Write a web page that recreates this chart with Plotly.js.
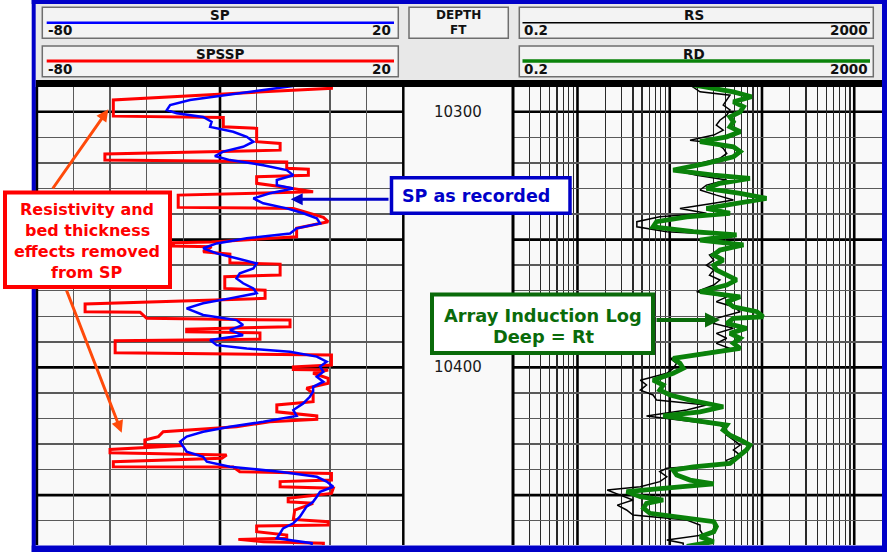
<!DOCTYPE html>
<html><head><meta charset="utf-8">
<script src="https://cdn.plot.ly/plotly-3.0.1.min.js"></script>
<style>html,body{margin:0;padding:0;background:#fff}#chart{width:887px;height:552px}</style>
</head><body><div id="chart"></div>
<script>
// ---- DATA ----
const spssp_depth = [10289.5,10290.8,10292.2,10295.4,10301.7,10302.2,10305.9,10306.5,10311.7,10312.4,10315.0,10316.5,10318.9,10319.6,10322.1,10322.5,10324.8,10325.4,10328.0,10329.1,10331.3,10332.6,10337.4,10337.8,10341.3,10343.0,10345.6,10348.9,10350.9,10351.2,10352.5,10352.8,10354.8,10355.7,10359.1,10359.6,10363.9,10364.5,10369.1,10369.8,10373.0,10375.2,10378.2,10378.4,10380.8,10381.5,10384.1,10385.1,10386.1,10386.5,10389.0,10389.6,10394.3,10395.2,10399.1,10399.8,10400.8,10401.0,10402.3,10404.3,10406.2,10408.2,10410.2,10413.4,10414.7,10417.4,10419.0,10420.3,10421.3,10423.2,10425.2,10427.1,10428.4,10430.4,10430.6,10432.1,10433.4,10434.3,10435.6,10436.9,10438.9,10439.0,10440.8,10441.5,10444.1,10444.7,10446.7,10447.3,10449.3,10451.2,10452.6,10453.2,10455.8,10459.5,10460.4,10461.7,10462.1,10464.3,10465.6,10466.9,10467.3,10468.2,10468.8,10470.0];
const spssp_mv = [0.4,0.4,-18.2,-59.1,-59.1,-29.1,-29.1,-20.0,-20.0,-13.6,-13.6,-61.4,-61.4,-11.8,-11.8,-5.9,-5.9,-20.0,-20.0,-14.2,-4.6,-41.4,-41.4,-10.0,-1.8,-0.5,-9.1,-9.1,-32.3,-42.7,-42.7,-32.3,-34.6,-27.3,-27.3,-13.6,-13.6,-28.7,-28.7,-17.7,-17.7,-66.8,-66.8,-51.8,-50.0,-10.9,-10.9,-39.1,-39.1,-19.1,-19.1,-58.6,-58.6,0.4,0.4,-10.0,-10.0,-0.5,-4.6,-0.5,-0.5,-6.4,-4.6,-4.6,-14.5,-14.5,-3.6,-3.6,-16.4,-25.5,-45.5,-46.8,-50.5,-50.5,-40.0,-60.0,-60.0,-28.2,-29.5,-59.1,-59.1,-26.4,-24.6,0.4,0.4,-13.6,-13.6,0.9,0.4,-11.4,-11.4,-4.6,-9.6,-10.0,-0.5,-0.5,-20.0,-20.0,-11.8,-11.8,-25.0,-18.2,-1.8,-1.8];

const sp_depth = [10289.5,10291.5,10293.5,10295.4,10297.4,10299.3,10300.6,10302.0,10303.9,10305.9,10307.8,10309.8,10311.7,10313.7,10315.6,10317.3,10318.9,10320.9,10322.8,10324.8,10326.7,10328.7,10330.0,10331.9,10333.9,10335.8,10337.8,10339.7,10341.7,10343.7,10345.6,10347.6,10349.5,10351.5,10353.4,10355.4,10357.3,10359.3,10361.3,10363.2,10365.2,10367.1,10369.1,10371.0,10373.0,10374.9,10376.9,10379.5,10381.5,10383.4,10385.4,10387.4,10389.3,10391.3,10392.6,10393.9,10395.8,10397.8,10399.7,10401.7,10403.7,10405.6,10407.6,10409.5,10411.5,10414.1,10416.7,10419.0,10421.3,10423.2,10425.2,10427.1,10429.1,10431.0,10433.0,10435.0,10436.9,10438.9,10440.8,10442.8,10444.7,10446.7,10448.7,10450.6,10452.6,10454.5,10456.5,10458.4,10461.0,10463.0,10464.9,10466.9,10468.8,10470.0];
const sp_mv = [-8.0,-18.2,-27.3,-38.2,-43.6,-44.5,-41.8,-34.6,-32.3,-32.7,-26.4,-22.7,-20.9,-23.7,-29.1,-31.4,-27.3,-18.2,-11.8,-10.0,-14.5,-14.5,-10.0,-16.4,-20.9,-18.2,-11.8,-7.3,-3.6,-2.7,-9.1,-10.9,-22.7,-30.9,-34.6,-30.9,-25.5,-20.0,-20.9,-24.6,-25.5,-23.7,-20.9,-20.0,-27.3,-34.6,-39.1,-34.6,-25.5,-23.7,-27.3,-23.7,-32.7,-30.9,-22.7,-10.9,-3.6,-0.9,-2.7,-1.8,-3.6,-1.8,-4.6,-4.6,-5.5,-7.3,-10.0,-9.1,-18.2,-27.3,-34.6,-39.1,-40.9,-40.0,-39.1,-34.6,-33.6,-27.3,-13.6,-3.6,-0.9,0.9,-2.7,-3.6,-4.6,-6.4,-7.3,-8.2,-10.0,-12.8,-13.6,-14.5,-5.0,-5.0];

const rd_depth = [10289.5,10292.2,10294.1,10296.1,10298.0,10300.0,10302.0,10303.9,10305.9,10307.8,10309.8,10311.7,10313.7,10315.6,10317.6,10320.2,10322.8,10324.8,10326.1,10328.0,10330.0,10331.9,10333.9,10335.8,10337.8,10339.7,10341.1,10343.0,10345.0,10346.9,10348.2,10350.2,10352.1,10354.1,10356.0,10358.0,10360.0,10361.9,10363.9,10365.8,10367.8,10370.4,10372.4,10374.3,10376.3,10378.2,10380.2,10380.8,10382.8,10384.7,10386.7,10388.6,10390.6,10392.6,10394.5,10396.5,10398.4,10400.4,10402.3,10405.0,10406.9,10408.9,10410.8,10412.8,10415.4,10417.4,10419.0,10420.6,10422.6,10424.5,10426.5,10428.4,10430.4,10432.3,10434.3,10436.3,10437.6,10438.9,10440.2,10442.1,10444.1,10445.6,10447.3,10448.6,10450.6,10451.9,10453.2,10455.1,10457.1,10459.1,10460.4,10462.3,10464.3,10466.3,10468.2,10470.0];
const rd_ohmm = [18,49,77,49,63,58,45,49,45,58,41.5,21.3,49,58,49,25,10.9,30,74,35,25,58,112,58,25,45,15.3,7.2,6.6,18,53,21.3,63,35,30,38,30,32,41.5,53,41.5,21.3,58,41.5,49,88,103,49,41.5,68,45,58,49,58,25,10.9,12.9,14,10.9,6.6,8.5,7.8,10.1,16.6,38,21.3,8.5,16.6,41.5,38,45,58,74,68,58,49,45,18,10.9,11.9,16.6,30,7.8,3.4,4.8,8.5,5.6,5.2,6.1,15.3,30,32,30,21.3,30,15.3];

const rs_depth = [10289.5,10292.2,10293.5,10295.4,10297.4,10299.3,10301.3,10303.3,10305.2,10307.2,10309.1,10311.1,10312.4,10314.3,10316.3,10318.2,10320.2,10322.8,10324.8,10326.7,10328.7,10330.6,10332.6,10334.5,10335.8,10337.8,10339.7,10341.1,10343.0,10345.0,10346.9,10348.2,10350.2,10352.1,10354.1,10356.0,10358.0,10360.0,10361.9,10363.9,10365.8,10367.8,10370.4,10372.4,10374.3,10376.3,10378.2,10380.8,10382.8,10384.7,10386.7,10388.6,10390.6,10392.6,10394.5,10396.5,10398.4,10400.4,10402.3,10405.0,10406.9,10408.9,10410.8,10412.8,10414.7,10416.7,10419.0,10420.6,10422.6,10424.5,10426.5,10428.4,10430.4,10432.3,10434.3,10436.3,10437.8,10439.5,10440.8,10442.8,10444.7,10446.7,10448.0,10450.0,10451.9,10453.9,10455.8,10457.8,10459.7,10461.7,10463.6,10465.6,10467.5,10468.8,10470.0];
const rs_ohmm = [16.6,21.3,45,41.5,38,45,41.5,35,32,38,30,16.6,32,38,41.5,35,21.3,10.9,19.6,41.5,25,21.3,32,49,30,12.9,25,7.8,4.4,4.4,9.3,45,25,49,35,27,30,25,30,27,35,30,19.6,41.5,32,49,58,32,30,49,32,41.5,32,45,21.3,10.1,11.9,10.9,9.3,4.8,5.6,4.8,6.6,7.2,25,15.3,5.6,12.9,35,41.5,41.5,49,58,49,58,41.5,41.5,9.3,7.8,9.3,7.8,4.8,2.1,2.9,4.0,2.7,3.4,4.0,15.3,21.3,21.3,23,9.3,14,14];

const sp_ticks = [-80, 20];
const res_ticks = [0.2, 2000];
const depth_labels = [10300, 10400];
const sp_minor = [-70,-60,-50,-40,-20,-10,0,10];
const sp_major = [-30];
const res_minor = [0.3,0.4,0.5,0.6,0.7,0.8,0.9,2,3,4,5,6,7,8,9,20,30,40,50,60,70,80,90,200,300,400,500,600,700,800,900];
const res_major = [1,10,100,1000];
const depth_minor = [10310,10320,10330,10340,10360,10370,10380,10390,10410,10420,10430,10440,10460];
const depth_major = [10300,10350,10400,10450];

// ---- LAYOUT HELPERS ----
const W = 887, H = 552;
const px = x => x / W;
const py = y => 1 - y / H;
const L0 = 36.7, L1 = 403.3, R0 = 513, R1 = 882, T0 = 87, T1 = 545;

const traces = [
  {x: spssp_mv, y: spssp_depth, xaxis:'x', yaxis:'y', mode:'lines', line:{color:'#ff0000', width:3}, hoverinfo:'skip', showlegend:false},
  {x: sp_mv, y: sp_depth, xaxis:'x', yaxis:'y', mode:'lines', line:{color:'#0000ff', width:2.5}, hoverinfo:'skip', showlegend:false},
  {x: rs_ohmm, y: rs_depth, xaxis:'x2', yaxis:'y', mode:'lines', line:{color:'#000000', width:1.5}, hoverinfo:'skip', showlegend:false},
  {x: rd_ohmm, y: rd_depth, xaxis:'x2', yaxis:'y', mode:'lines', line:{color:'#0a820a', width:4.8}, hoverinfo:'skip', showlegend:false}
];

const shapes = [];
function rectP(x0,y0,x1,y1,fill,line,lw,layer){
  shapes.push({type:'rect', xref:'paper', yref:'paper', x0:px(x0), x1:px(x1), y0:py(y1), y1:py(y0),
    fillcolor:fill, line:{color:line||'rgba(0,0,0,0)', width:lw||0}, layer:layer||'above'});
}
function lineP(x0,y0,x1,y1,color,w,layer){
  shapes.push({type:'line', xref:'paper', yref:'paper', x0:px(x0), x1:px(x1), y0:py(y0), y1:py(y1),
    line:{color:color, width:w}, layer:layer||'above'});
}
rectP(L1, T0, R0, T1, '#f9f9f9', null, 0, 'below');
rectP(35.7, 4, 882, 80, '#e8e8e8', null, 0, 'below');
depth_major.forEach(d => {
  shapes.push({type:'line', xref:'paper', yref:'y', x0:px(L0), x1:px(L1), y0:d, y1:d, line:{color:'#000', width:2.6}, layer:'below'});
  shapes.push({type:'line', xref:'paper', yref:'y', x0:px(R0), x1:px(R1), y0:d, y1:d, line:{color:'#000', width:2.6}, layer:'below'});
});
sp_major.forEach(v => shapes.push({type:'line', xref:'x', yref:'paper', x0:v, x1:v, y0:py(T1), y1:py(T0), line:{color:'#000', width:2.6}, layer:'below'}));
res_major.forEach(v => shapes.push({type:'line', xref:'x2', yref:'paper', x0:v, x1:v, y0:py(T1), y1:py(T0), line:{color:'#000', width:2.6}, layer:'below'}));
lineP(L0, T0, L0, T1, '#000', 3);
lineP(L1, T0, L1, T1, '#000', 2.5);
lineP(R0, T0, R0, T1, '#000', 3);
rectP(35.7, 80, 882, 87, '#000');
rectP(42.3, 7.3, 398.3, 38.3, '#f3f3f3', '#6e6e6e', 1.5);
rectP(42.3, 46, 398.3, 76.7, '#f3f3f3', '#6e6e6e', 1.5);
rectP(409, 7.3, 508.3, 38.3, '#f3f3f3', '#6e6e6e', 1.5);
rectP(519.3, 7.3, 873.3, 38.3, '#f3f3f3', '#6e6e6e', 1.5);
rectP(519.3, 46, 873.3, 76.7, '#f3f3f3', '#6e6e6e', 1.5);
lineP(46.7, 22.7, 394, 22.7, '#0000ff', 2.5);
lineP(46.7, 61, 394, 61, '#ff0000', 3);
lineP(522.5, 22.7, 870, 22.7, '#000', 1.5);
lineP(522.5, 61, 870, 61, '#0a820a', 3.5);
rectP(31.7, 0, 887, 4, '#0000c8');
rectP(31.7, 545.5, 887, 552, '#0000c8');
rectP(31.7, 0, 35.7, 552, '#0000c8');
rectP(882, 0, 887, 552, '#0000c8');
rectP(5, 192.5, 170, 287, '#ffffff', '#ff0000', 4);
rectP(391.5, 177.7, 570, 213.3, '#ffffff', '#0000c8', 3.5);
rectP(432, 294.5, 653, 353, '#ffffff', '#0a6b0a', 4);

const annotations = [];
function txt(x, y, s, opt){
  annotations.push(Object.assign({xref:'paper', yref:'paper', x:px(x), y:py(y), text:s, showarrow:false,
    xanchor:'center', yanchor:'middle', font:{family:'DejaVu Sans', size:14, color:'#111'}}, opt||{}));
}
const hf = {family:'DejaVu Sans', size:13.5, color:'#111', weight:'bold'};
const df = {family:'DejaVu Sans', size:12, color:'#111', weight:'bold'};
txt(220, 15, 'SP', {font:hf});
txt(46, 30, String(sp_ticks[0]), {xanchor:'left', font:hf});
txt(393, 30, String(sp_ticks[1]), {xanchor:'right', font:hf});
txt(220, 54, 'SPSSP', {font:hf});
txt(46, 69, String(sp_ticks[0]), {xanchor:'left', font:hf});
txt(393, 69, String(sp_ticks[1]), {xanchor:'right', font:hf});
txt(458.5, 15, 'DEPTH', {font:df});
txt(458.5, 29.7, 'FT', {font:df});
txt(694, 15, 'RS', {font:hf});
txt(521.5, 30, String(res_ticks[0]), {xanchor:'left', font:hf});
txt(870, 30, String(res_ticks[1]), {xanchor:'right', font:hf});
txt(694, 54, 'RD', {font:hf});
txt(521.5, 69, String(res_ticks[0]), {xanchor:'left', font:hf});
txt(870, 69, String(res_ticks[1]), {xanchor:'right', font:hf});
depth_labels.forEach(d => annotations.push({xref:'paper', yref:'y', x:px(458), y:d, text:String(d), showarrow:false,
  xanchor:'center', yanchor:'middle', font:{family:'DejaVu Sans', size:15, color:'#1a1a1a'}}));
const rf = {family:'DejaVu Sans', size:16, color:'#ff0000', weight:'bold'};
txt(87, 209.5, 'Resistivity and', {font:rf});
txt(87, 230.5, 'bed thickness', {font:rf});
txt(87, 251.5, 'effects removed', {font:rf});
txt(87, 272.5, 'from SP', {font:rf});
txt(476, 196, 'SP as recorded', {font:{family:'DejaVu Sans', size:17.5, color:'#0000c8', weight:'bold'}});
const gf = {family:'DejaVu Sans', size:17.8, color:'#0a6b0a', weight:'bold'};
txt(542.5, 315, 'Array Induction Log', {font:gf});
txt(543.5, 336.8, 'Deep = Rt', {font:gf});
function arrow(tx, ty, fx, fy, color, w, size){
  annotations.push({xref:'paper', yref:'paper', x:px(tx), y:py(ty), ax:fx-tx, ay:fy-ty, text:'', showarrow:true,
    arrowhead:2, arrowsize:size, arrowwidth:w, arrowcolor:color, standoff:0, startstandoff:0});
}
arrow(108.3, 109.3, 51.7, 190, '#ff4a0a', 3, 0.8);
arrow(121.7, 432.7, 66, 289, '#ff4a0a', 3, 0.8);
arrow(290.7, 199.3, 390, 199.3, '#0000c8', 3, 0.8);
arrow(720, 320, 655, 320, '#0a6b0a', 4, 0.75);

const layout = {
  width: W, height: H, autosize:false,
  margin:{l:0, r:0, t:0, b:0, pad:0},
  paper_bgcolor:'#ffffff', plot_bgcolor:'#f9f9f9',
  showlegend:false,
  xaxis:{domain:[px(L0), px(L1)], range:[-80, 20], tickvals:sp_minor, showticklabels:false, ticks:'',
    showgrid:true, gridcolor:'#5a5a5a', gridwidth:1.5, zeroline:false, showline:false, fixedrange:true},
  xaxis2:{domain:[px(R0), px(R1)], type:'log', range:[Math.log10(0.2), Math.log10(2000)], tickvals:res_minor,
    showticklabels:false, ticks:'', showgrid:true, gridcolor:'#2a2a2a', gridwidth:1.1, zeroline:false, showline:false,
    anchor:'y', fixedrange:true},
  yaxis:{domain:[py(T1), py(T0)], range:[10469.5, 10290.3], tickvals:depth_minor, showticklabels:false, ticks:'',
    showgrid:true, gridcolor:'#5a5a5a', gridwidth:1.5, zeroline:false, showline:false, fixedrange:true},
  shapes: shapes,
  annotations: annotations
};
Plotly.newPlot('chart', traces, layout, {staticPlot:true, displayModeBar:false});
</script>
</body></html>
